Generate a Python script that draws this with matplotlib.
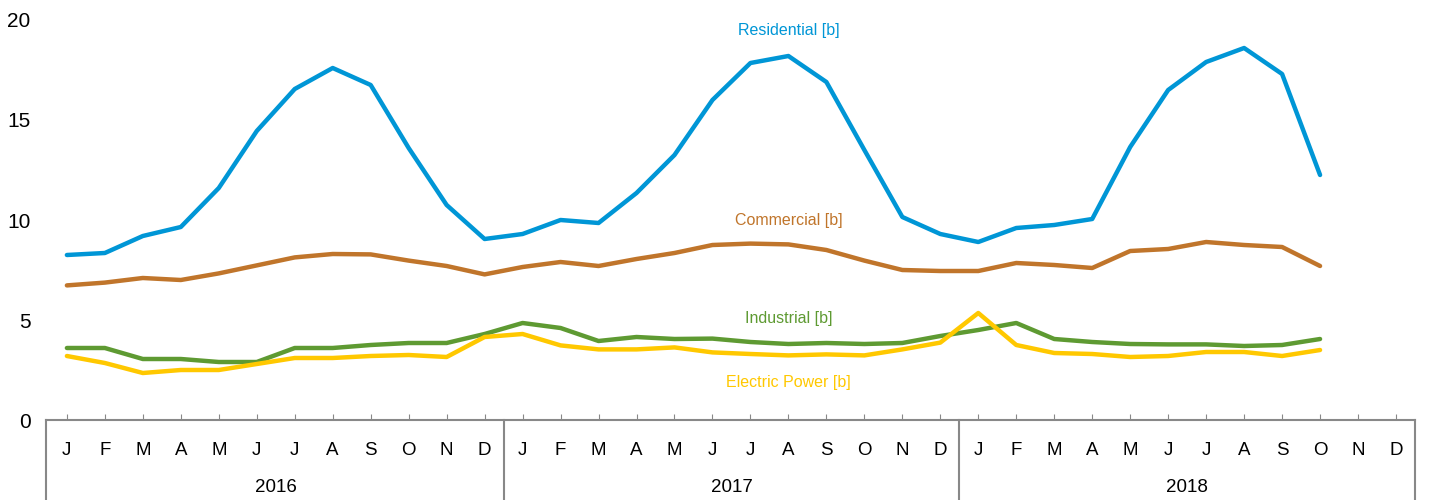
import matplotlib.pyplot as plt
import matplotlib.transforms as mtransforms
import numpy as np

plt.rcParams['font.family'] = ['Liberation Sans', 'DejaVu Sans']

years = ["2016", "2017", "2018"]
months = ["J", "F", "M", "A", "M", "J", "J", "A", "S", "O", "N", "D"]

# monthly values, Jan 2016 .. Oct 2018
residential = [8.25, 8.35, 9.2, 9.65, 11.6, 14.45, 16.55, 17.6, 16.75, 13.6, 10.75, 9.05,
               9.3, 10.0, 9.85, 11.35, 13.25, 16.0, 17.85, 18.2, 16.9, 13.5, 10.15, 9.3,
               8.9, 9.6, 9.75, 10.05, 13.65, 16.5, 17.9, 18.6, 17.3, 12.25]
commercial = [6.73, 6.87, 7.1, 7.0, 7.33, 7.73, 8.13, 8.3, 8.28, 7.97, 7.7, 7.28,
              7.65, 7.9, 7.7, 8.05, 8.35, 8.75, 8.82, 8.78, 8.5, 7.97, 7.5, 7.45,
              7.45, 7.85, 7.75, 7.6, 8.45, 8.55, 8.9, 8.75, 8.65, 7.7]
industrial = [3.6, 3.6, 3.05, 3.05, 2.9, 2.9, 3.6, 3.6, 3.75, 3.85, 3.85, 4.3,
              4.85, 4.6, 3.95, 4.15, 4.05, 4.07, 3.9, 3.8, 3.85, 3.8, 3.85, 4.2,
              4.5, 4.85, 4.05, 3.9, 3.8, 3.78, 3.78, 3.7, 3.75, 4.05]
electric = [3.2, 2.85, 2.35, 2.5, 2.5, 2.8, 3.1, 3.1, 3.2, 3.25, 3.15, 4.15,
            4.3, 3.73, 3.53, 3.53, 3.63, 3.38, 3.3, 3.23, 3.28, 3.23, 3.53, 3.87,
            5.35, 3.75, 3.35, 3.3, 3.15, 3.2, 3.4, 3.4, 3.2, 3.5]

series = [
    ("Residential [b]", residential, "#0096d6", 19.45),
    ("Commercial [b]", commercial, "#c0752b", 10.0),
    ("Industrial [b]", industrial, "#5e9a32", 5.05),
    ("Electric Power [b]", electric, "#ffc800", 1.9),
]
label_month = 19

fig = plt.figure(figsize=(14.29, 5), dpi=100)
ax = fig.add_axes([46 / 1429, 0.16, 1369 / 1429, 0.8])

for name, vals, color, ylab in series:
    x = np.arange(len(vals))
    ax.plot(x, vals, color=color, lw=3.2, solid_capstyle="round",
            solid_joinstyle="round")
    ax.text(label_month, ylab, name, color=color, fontsize=11.5,
            ha="center", va="center")

n = len(years) * len(months)
ax.set_xlim(-0.55, n - 0.5)
ax.set_ylim(0, 20)
ax.set_yticks([0, 5, 10, 15, 20])
ax.set_xticks(np.arange(n))
ax.set_xticklabels(months * len(years))

for s in ["left", "top", "right"]:
    ax.spines[s].set_visible(False)
ax.spines["bottom"].set_color("#888888")
ax.spines["bottom"].set_linewidth(1.5)

ax.tick_params(axis="y", length=0, pad=11, labelsize=15)
ax.tick_params(axis="x", direction="in", length=4, color="#888888",
               pad=16, labelsize=13.5)

# year row under the month letters
trans = mtransforms.blended_transform_factory(ax.transData, ax.transAxes)
for i, yr in enumerate(years):
    ax.text(i * 12 + 5.5, -0.168, yr, transform=trans, ha="center",
            va="center", fontsize=13.5)
for k in range(len(years) + 1):
    xk = -0.55 if k == 0 else k * 12 - 0.5
    ax.plot([xk] * 2, [0, -0.2], transform=trans, color="#888888",
            lw=1.5, clip_on=False)

fig.savefig("out.png", dpi=100)
